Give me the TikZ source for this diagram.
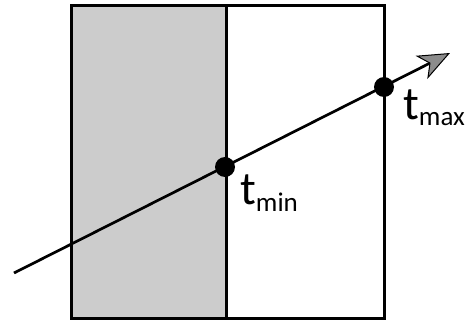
\documentclass[tikz,border=0pt]{standalone}
\usepackage{fontspec}
\setmainfont{Carlito}
\usetikzlibrary{arrows.meta}
\newcommand{\tlabel}[1]{{\fontsize{47}{47}\selectfont t\raisebox{-6pt}{\fontsize{27}{27}\selectfont #1}}}
\begin{document}
\begin{tikzpicture}[x=1pt, y=-1pt, every node/.style={inner sep=0pt}, pt/.style={circle, fill=black, minimum size=20pt}]
        \useasboundingbox (0,0) rectangle (467,321);
        \fill[black!20] (71,6) rectangle (226,319);
        \draw[line width=3pt] (71,6) rectangle (384,319);
        \draw[line width=3pt] (226,6) -- (226,319);
        \coordinate (start) at (14,273);
        \coordinate (tip) at (450,53);
        \draw[line width=2.7pt, -{Stealth[length=32pt, width=26pt, inset=9pt, fill=black!45, line width=1pt]}] (start) -- (tip);
        \node[pt] (tmin) at (225,167) {};
        \node[pt] (tmax) at (384,87) {};
        \node[anchor=base west] (lmin) at (240,205) {\tlabel{min}};
        \node[anchor=base west] (lmax) at (403,120) {\tlabel{max}};
    \end{tikzpicture}
\end{document}
